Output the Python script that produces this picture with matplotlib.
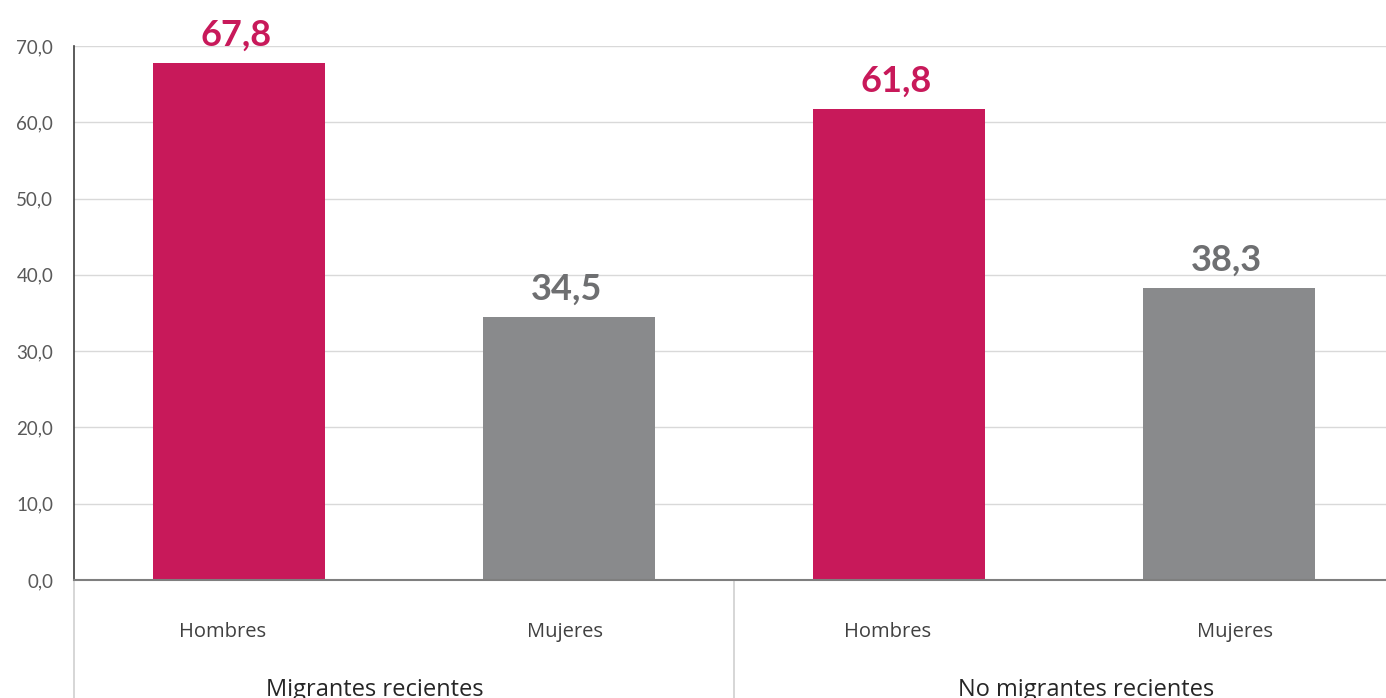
import numpy as np
import matplotlib.pyplot as plt

# Datos
grupos = ["Migrantes recientes", "No migrantes recientes"]
sexos = ["Hombres", "Mujeres", "Hombres", "Mujeres"]
valores = [67.8, 34.5, 61.8, 38.3]
etiquetas = ["67,8", "34,5", "61,8", "38,3"]
yticks = [0, 10, 20, 30, 40, 50, 60, 70]

magenta = "#C8195A"
gris = "#898A8C"
colores = [magenta, gris, magenta, gris]
col_etiq = [magenta, "#6E6F71", magenta, "#6E6F71"]

W, H = 1386, 698
fig = plt.figure(figsize=(W/100, H/100), dpi=100)
ax = fig.add_axes([74/W, (H-580)/H, 1320/W, 534/H])

x = np.arange(len(valores))
ax.bar(x, valores, width=0.52, color=colores, zorder=3)
ax.set_xlim(-0.5, 3.5)
ax.set_ylim(0, 70)
ax.set_yticks(yticks)
ax.set_yticklabels([f"{v:.1f}".replace(".", ",") for v in yticks],
                   fontfamily="Lato", fontsize=13.5, color="#595959")
ax.tick_params(axis="y", length=0, pad=15)
ax.set_xticks([])
ax.yaxis.grid(True, color="#D9D9D9", lw=1, zorder=0)
for s in ["top", "right"]:
    ax.spines[s].set_visible(False)
ax.spines["left"].set_color("#404040")
ax.spines["left"].set_linewidth(1.2)
ax.spines["bottom"].set_color("#7F7F7F")
ax.spines["bottom"].set_linewidth(1.5)
ax.spines["bottom"].set_zorder(4)

# Etiquetas de datos
for xi, v, t, c in zip(x, valores, etiquetas, col_etiq):
    ax.annotate(t, (xi, v), xytext=(-2, 8), textcoords="offset points",
                ha="center", va="bottom", fontfamily="Lato", fontweight="bold",
                fontsize=26, color=c)

# Ejes de categorías (dos niveles)
dx_sexo = [-11.5, -3, -8, 4.5]
for xi, s, d in zip(x, sexos, dx_sexo):
    ax.annotate(s, (xi, 0), xytext=(d, -37.5), textcoords="offset points",
                ha="center", va="center", fontfamily="Open Sans",
                fontsize=14.5, color="#404040", annotation_clip=False)
dx_grupo = [-21, 16]
for gi, (g, d) in enumerate(zip(grupos, dx_grupo)):
    ax.annotate(g, (gi*2 + 0.5, 0), xytext=(d, -83.5), textcoords="offset points",
                ha="center", va="baseline", fontfamily="Open Sans",
                fontsize=17, color="#262626", annotation_clip=False)

# Separadores verticales bajo el eje
for xs in [-0.5, 1.5, 3.5]:
    ax.plot([xs, xs], [0, -16], color="#D0D0D0", lw=1.2, clip_on=False, zorder=1)

fig.savefig("out.png", dpi=100)
